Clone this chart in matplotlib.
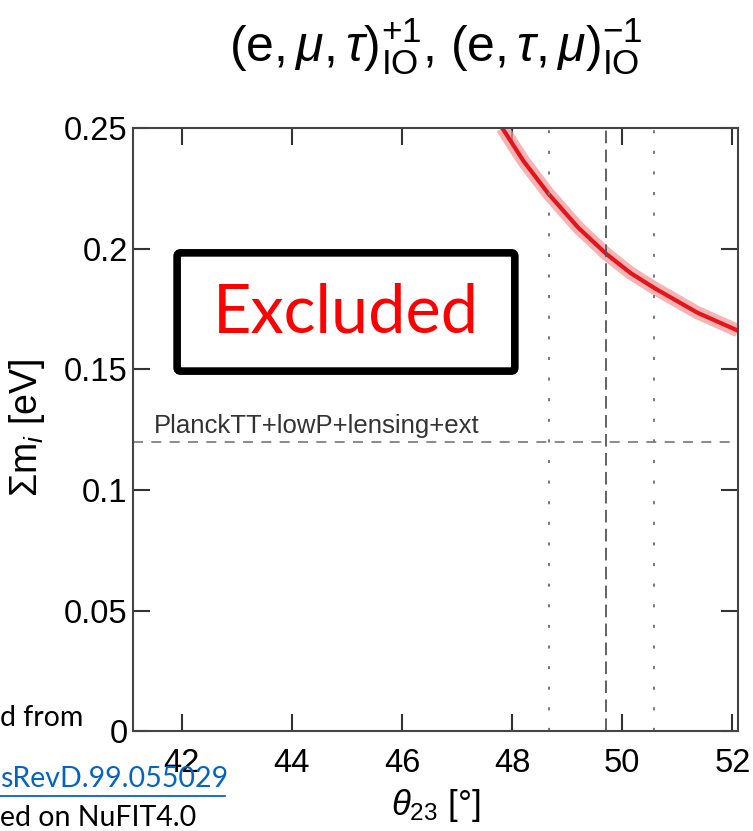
import matplotlib
matplotlib.use("Agg")
import matplotlib.pyplot as plt
from matplotlib.patches import FancyBboxPatch

theta = [47.82, 48.20, 48.66, 49.20, 49.71, 50.15, 50.58, 51.36, 52.10]
sum_m = [0.2500, 0.2365, 0.2227, 0.2087, 0.1978, 0.1899, 0.1837, 0.1735, 0.1660]

theta_best = 49.71
theta_1sigma = [48.66, 50.58]
planck_bound = 0.12
planck_label = "PlanckTT+lowP+lensing+ext"

xticks = [42, 44, 46, 48, 50, 52]
yticks = [0, 0.05, 0.1, 0.15, 0.2, 0.25]
ytick_labels = ["0", "0.05", "0.1", "0.15", "0.2", "0.25"]

plt.rcParams["font.family"] = ["Liberation Sans", "DejaVu Sans"]
plt.rcParams["mathtext.fontset"] = "custom"
plt.rcParams["mathtext.rm"] = "Liberation Sans"
plt.rcParams["mathtext.it"] = "Liberation Sans:italic"

fig = plt.figure(figsize=(7.53, 8.31), dpi=100)
ax = fig.add_axes([0.177, 0.120, 0.803, 0.726])

# band + best fit curve
ax.plot(theta, sum_m, color="#f49a9a", lw=9.5, alpha=0.75,
        solid_capstyle="butt", solid_joinstyle="round")
ax.plot(theta, sum_m, color="#e3141c", lw=3.0,
        solid_capstyle="butt", solid_joinstyle="round")

ax.axvline(theta_best, color="#555555", lw=1.3, ls=(0, (7, 3.5)))
for t in theta_1sigma:
    ax.axvline(t, color="#777777", lw=1.4, ls=(0, (1.6, 9)))
ax.axhline(planck_bound, color="#777777", lw=1.2, ls=(0, (6, 5)))
ax.text(41.5, planck_bound + 0.0015, planck_label, fontsize=18.5,
        color="#333333", va="bottom", ha="left")

ax.set_xlim(41.12, 52.1)
ax.set_ylim(0, 0.25)
ax.set_xticks(xticks)
ax.set_yticks(yticks)
ax.set_yticklabels(ytick_labels)
ax.tick_params(direction="in", length=12, width=1.5, color="#333333",
               top=True, right=True, labelsize=23.5)
ax.tick_params(axis="x", pad=12)
ax.tick_params(axis="y", pad=4)
for s in ax.spines.values():
    s.set_color("#444444")
    s.set_linewidth(1.5)

# Excluded box
box = FancyBboxPatch((0.0725, 0.597), 0.5585, 0.196,
                     boxstyle="round,pad=0,rounding_size=0.006",
                     transform=ax.transAxes, fill=True, facecolor="white",
                     edgecolor="black", lw=5.5, zorder=5)
ax.add_patch(box)
ax.text(0.352, 0.693, "Excluded", transform=ax.transAxes, color="#ff0000",
        fontsize=48, family="Lato", ha="center", va="center", zorder=6)

fig.text(0.579, 0.944,
         r"$(\mathrm{e},\mu,\tau)^{+1}_{\mathrm{IO}}$, $(\mathrm{e},\tau,\mu)^{-1}_{\mathrm{IO}}$",
         fontsize=36, ha="center", va="center")
fig.text(0.036, 0.485, r"$\Sigma\mathrm{m}_i$ [eV]", fontsize=27,
         rotation=90, ha="center", va="center")
fig.text(0.578, 0.031, r"$\theta_{23}$ [°]", fontsize=25,
         ha="center", va="center")

# cropped slide text on the left
fig.text(0.0, 0.136, "d from", fontsize=20.5, family="Lato", ha="left", va="center")
fig.text(0.0, 0.062, "sRevD.99.055029", fontsize=20.5, family="Lato",
         color="#0563c1", ha="left", va="center")
fig.add_artist(plt.Line2D([0.0, 0.299], [0.042, 0.042], color="#0563c1", lw=1.3))
fig.text(0.0, 0.016, "ed on NuFIT4.0", fontsize=20.5, family="Lato", ha="left", va="center")

fig.savefig("out.png", dpi=100)
